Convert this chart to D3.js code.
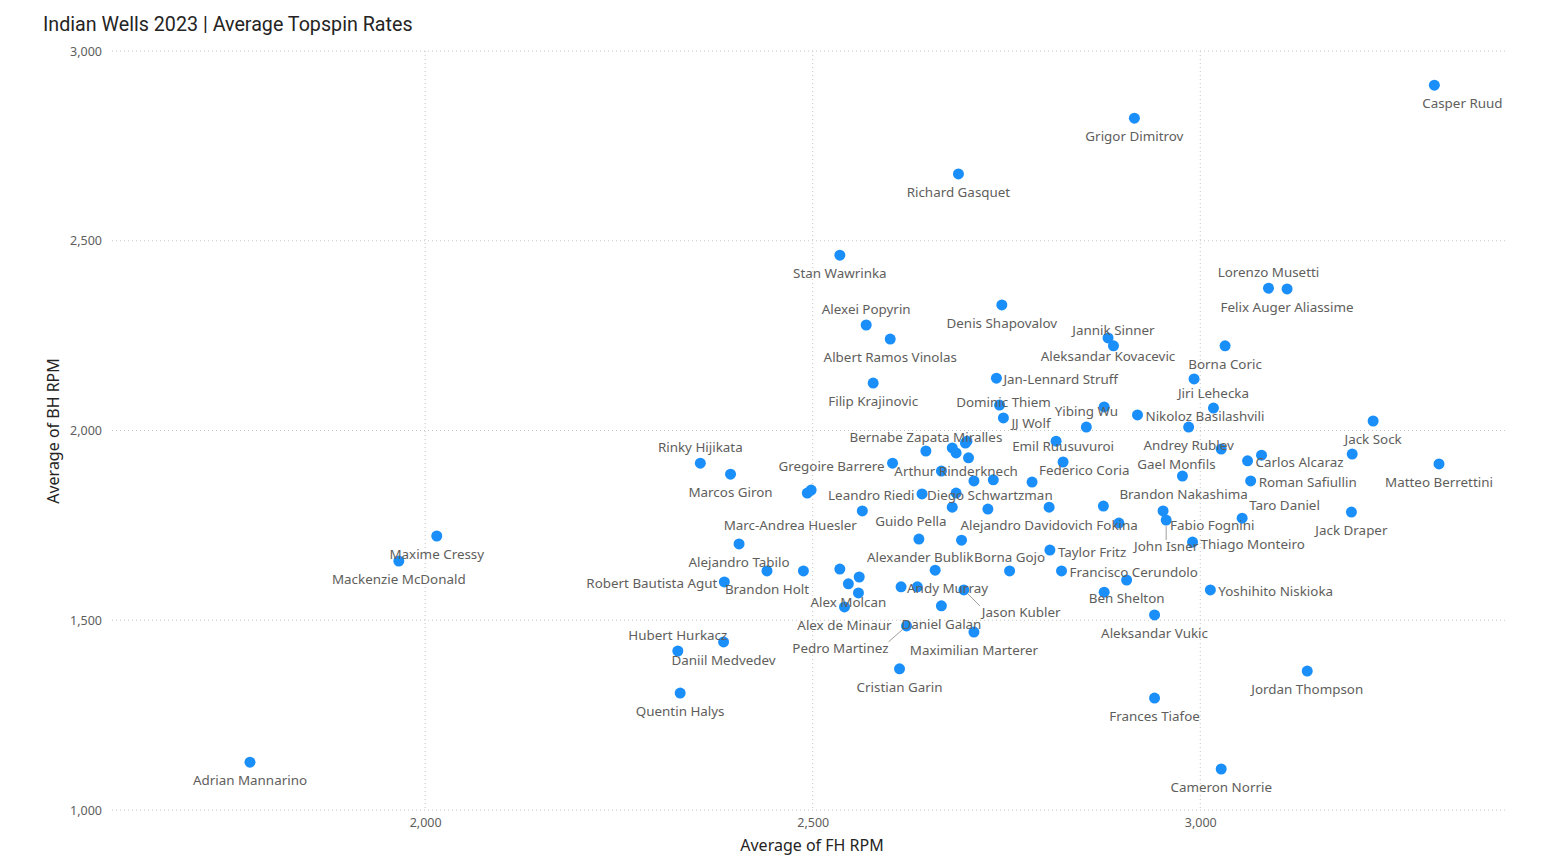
<!DOCTYPE html>
<html>
<head>
<meta charset="utf-8">
<script src="https://cdn.jsdelivr.net/npm/d3@7/dist/d3.min.js"></script>
<style>
  body { margin: 0; background: #fff; }
  svg { display: block; }
</style>
</head>
<body>
<script>
// player names (null = dot whose label Power BI hid)
var players = [
  'Casper Ruud', 'Grigor Dimitrov', 'Richard Gasquet', 'Stan Wawrinka', 'Lorenzo Musetti',
  'Felix Auger Aliassime', 'Denis Shapovalov', 'Alexei Popyrin', 'Albert Ramos Vinolas', 'Aleksandar Kovacevic',
  'Jannik Sinner', 'Borna Coric', 'Jan-Lennard Struff', 'Filip Krajinovic', null,
  'Dominic Thiem', null, 'Jiri Lehecka', 'Nikoloz Basilashvili', 'JJ Wolf',
  'Jack Sock', 'Yibing Wu', 'Andrey Rublev', null, null,
  null, null, null, 'Bernabe Zapata Miralles', 'Arthur Rinderknech',
  null, null, null, 'Carlos Alcaraz', 'Emil Ruusuvuroi',
  'Gregoire Barrere', 'Rinky Hijikata', 'Matteo Berrettini', null, 'Marcos Giron',
  'Gael Monfils', null, null, 'Roman Safiullin', 'Federico Coria',
  null, 'Marc-Andrea Huesler', null, 'Diego Schwartzman', 'Brandon Nakashima',
  null, 'Alejandro Davidovich Fokina', null, 'Leandro Riedi', 'Fabio Fognini',
  'Jack Draper', 'Taro Daniel', 'John Isner', null, 'Guido Pella',
  null, 'Alejandro Tabilo', 'Thiago Monteiro', 'Taylor Fritz', 'Maxime Cressy',
  'Mackenzie McDonald', null, 'Alexander Bublik', 'Borna Gojo', 'Brandon Holt',
  null, 'Francisco Cerundolo', null, 'Ben Shelton', 'Robert Bautista Agut',
  'Alex Molcan', 'Andy Murray', null, 'Jason Kubler', 'Yoshihito Niskioka',
  null, null, 'Daniel Galan', 'Alex de Minaur', 'Aleksandar Vukic',
  'Pedro Martinez', 'Maximilian Marterer', 'Daniil Medvedev', 'Hubert Hurkacz', 'Cristian Garin',
  'Jordan Thompson', 'Quentin Halys', 'Frances Tiafoe', 'Adrian Mannarino', 'Cameron Norrie'
];

var fhRpm = [
  3302, 2915, 2688, 2535, 3088,
  3112, 2744, 2569, 2600, 2881,
  2888, 3032, 2737, 2578, 2992,
  2741, 2876, 3017, 2919, 2746,
  3223, 2853, 2985, 2814, 2699,
  2697, 2680, 3027, 2646, 2685,
  3079, 3196, 2701, 3061, 2823,
  2603, 2355, 3308, 2666, 2394,
  2977, 2733, 2708, 3065, 2783,
  2498, 2493, 2685, 2641, 2875,
  2680, 2805, 2726, 2564, 2952,
  3195, 3054, 2956, 2895, 2637,
  2692, 2405, 2990, 2806, 2015,
  1966, 2535, 2658, 2754, 2441,
  2488, 2821, 2560, 2905, 2386,
  2546, 2614, 2635, 2695, 3013,
  2876, 2559, 2666, 2541, 2941,
  2621, 2708, 2385, 2326, 2612,
  3138, 2329, 2941, 1774, 3027
];

var bhRpm = [
  2910, 2823, 2676, 2462, 2375,
  2373, 2331, 2278, 2241, 2244,
  2223, 2223, 2138, 2125, 2136,
  2067, 2062, 2059, 2041, 2033,
  2025, 2009, 2009, 1972, 1972,
  1967, 1954, 1951, 1946, 1941,
  1935, 1938, 1928, 1920, 1917,
  1914, 1914, 1912, 1893, 1885,
  1880, 1870, 1867, 1867, 1864,
  1843, 1835, 1835, 1833, 1801,
  1798, 1798, 1793, 1788, 1788,
  1785, 1769, 1764, 1756, 1714,
  1711, 1701, 1706, 1685, 1722,
  1656, 1635, 1632, 1630, 1630,
  1630, 1630, 1614, 1606, 1601,
  1596, 1588, 1588, 1580, 1580,
  1574, 1572, 1538, 1535, 1514,
  1485, 1469, 1443, 1419, 1372,
  1366, 1308, 1295, 1126, 1108
];

var xTicks = [2000, 2500, 3000];
var yTicks = [1000, 1500, 2000, 2500, 3000];

// where each data label sits relative to its dot: [dx, dy, text-anchor]
var B = [0, 18, 'middle'], T = [0, -16, 'middle'], R = [8, 1, 'start'];
var labelAt = {
  'Casper Ruud': [28, 18, 'middle'], 'Jan-Lennard Struff': [7, 1, 'start'],
  'Dominic Thiem': [4, -3, 'middle'], 'JJ Wolf': [8, 5, 'start'],
  'Jiri Lehecka': [0, -15, 'middle'], 'Bernabe Zapata Miralles': [0, -14, 'middle'],
  'Gregoire Barrere': [-8, 3, 'end'], 'Gael Monfils': [-6, -12, 'middle'],
  'Federico Coria': [7, -12, 'start'], 'Marc-Andrea Huesler': [-17, 32, 'middle'],
  'Diego Schwartzman': [5, 1, 'start'], 'Brandon Nakashima': [16, -12, 'start'],
  'Leandro Riedi': [9, -16, 'middle'], 'Fabio Fognini': [7, 14, 'start'],
  'Taro Daniel': [7, -13, 'start'], 'John Isner': [0, 26, 'middle'],
  'Guido Pella': [-8, -18, 'middle'], 'Thiago Monteiro': [8, 2, 'start'],
  'Taylor Fritz': [8, 2, 'start'], 'Alexander Bublik': [-15, -13, 'middle'],
  'Borna Gojo': [0, -14, 'middle'], 'Robert Bautista Agut': [-7, 1, 'end'],
  'Andy Murray': [6, 1, 'start'], 'Jason Kubler': [18, 22, 'start'],
  'Pedro Martinez': [-18, 22, 'end'],
  'Lorenzo Musetti': T, 'Alexei Popyrin': T, 'Jannik Sinner': T, 'Yibing Wu': T,
  'Emil Ruusuvuroi': T, 'Rinky Hijikata': T, 'Hubert Hurkacz': T,
  'Nikoloz Basilashvili': R, 'Carlos Alcaraz': R, 'Roman Safiullin': R,
  'Francisco Cerundolo': R, 'Yoshihito Niskioka': R
};
var leaders = ['Jason Kubler', 'Pedro Martinez', 'John Isner'];

var W = 1557, H = 865;
var svg = d3.select('body').append('svg')
  .attr('width', W)
  .attr('height', H);

var xScale = d3.scaleLinear().domain([1596, 3397]).range([112, 1508]);
var yScale = d3.scaleLinear().domain([1000, 3000]).range([810, 51]);

var data = players.map(function(p, i) {
  return { name: p, fh: fhRpm[i], bh: bhRpm[i] };
});

// title
svg.append('text')
  .attr('x', 43)
  .attr('y', 31)
  .attr('font-family', 'Roboto, sans-serif')
  .attr('font-size', 19.7)
  .attr('fill', '#252423')
  .text('Indian Wells 2023 | Average Topspin Rates');

// gridlines
svg.append('g')
  .selectAll('line')
  .data(yTicks)
  .enter().append('line')
  .attr('x1', 112).attr('x2', 1508)
  .attr('y1', function(d) { return yScale(d); })
  .attr('y2', function(d) { return yScale(d); })
  .attr('stroke', '#c8c6c4')
  .attr('stroke-width', 1)
  .attr('stroke-dasharray', '1,3');

svg.append('g')
  .selectAll('line')
  .data(xTicks)
  .enter().append('line')
  .attr('x1', function(d) { return xScale(d); })
  .attr('x2', function(d) { return xScale(d); })
  .attr('y1', 51).attr('y2', 810)
  .attr('stroke', '#c8c6c4')
  .attr('stroke-width', 1)
  .attr('stroke-dasharray', '1,3');

// axes (labels only, Power BI style)
var xAxis = svg.append('g')
  .attr('transform', 'translate(0, 812)')
  .call(d3.axisBottom(xScale).tickValues(xTicks).tickSize(0).tickPadding(6).tickFormat(d3.format(',')));
var yAxis = svg.append('g')
  .attr('transform', 'translate(102, 0)')
  .call(d3.axisLeft(yScale).tickValues(yTicks).tickSize(0).tickPadding(0).tickFormat(d3.format(',')));
[xAxis, yAxis].forEach(function(a) {
  a.select('.domain').remove();
  a.selectAll('text')
    .attr('font-family', '"Noto Sans", sans-serif')
    .attr('font-size', 12.5)
    .attr('fill', '#605e5c');
});

// axis titles
svg.append('text')
  .attr('x', 812)
  .attr('y', 851)
  .attr('text-anchor', 'middle')
  .attr('font-family', '"Noto Sans", sans-serif')
  .attr('font-size', 16)
  .attr('fill', '#252423')
  .text('Average of FH RPM');

svg.append('text')
  .attr('transform', 'translate(59, 431) rotate(-90)')
  .attr('text-anchor', 'middle')
  .attr('font-family', '"Noto Sans", sans-serif')
  .attr('font-size', 16)
  .attr('fill', '#252423')
  .text('Average of BH RPM');

// dots
svg.append('g')
  .selectAll('circle')
  .data(data)
  .enter().append('circle')
  .attr('cx', function(d) { return xScale(d.fh); })
  .attr('cy', function(d) { return yScale(d.bh); })
  .attr('r', 5.5)
  .attr('fill', '#1a8ffa');

// data labels
var labelled = data.filter(function(d) { return d.name; });
var labels = svg.append('g')
  .selectAll('text')
  .data(labelled)
  .enter().append('text')
  .attr('x', function(d) { return xScale(d.fh) + (labelAt[d.name] || B)[0]; })
  .attr('y', function(d) { return yScale(d.bh) + (labelAt[d.name] || B)[1]; })
  .attr('text-anchor', function(d) { return (labelAt[d.name] || B)[2]; })
  .attr('dominant-baseline', 'central')
  .attr('font-family', '"Noto Sans", sans-serif')
  .attr('font-size', 13.4)
  .attr('fill', '#605e5c')
  .text(function(d) { return d.name; });

// leader lines for the labels that were pushed away from their dot
labels.filter(function(d) { return leaders.indexOf(d.name) >= 0; })
  .each(function(d) {
    var bb = this.getBBox();
    var px = xScale(d.fh), py = yScale(d.bh);
    var tx = Math.max(bb.x, Math.min(px, bb.x + bb.width));
    var ty = Math.max(bb.y + 3, Math.min(py, bb.y + bb.height - 3));
    var a = Math.atan2(ty - py, tx - px);
    svg.append('line')
      .attr('x1', px + 5.5 * Math.cos(a))
      .attr('y1', py + 5.5 * Math.sin(a))
      .attr('x2', tx)
      .attr('y2', ty)
      .attr('stroke', '#a19f9d')
      .attr('stroke-width', 1);
  });
</script>
</body>
</html>
